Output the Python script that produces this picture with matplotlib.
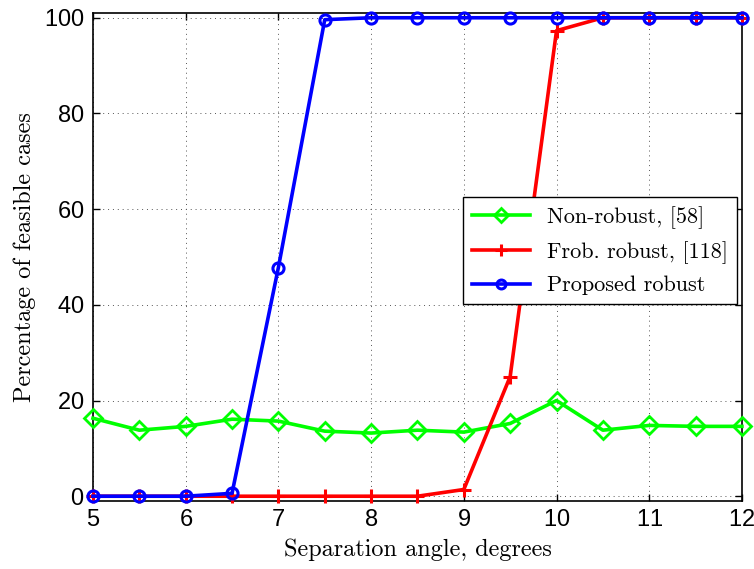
import matplotlib
matplotlib.use("Agg")
import matplotlib.pyplot as plt

angles = [5, 5.5, 6, 6.5, 7, 7.5, 8, 8.5, 9, 9.5, 10, 10.5, 11, 11.5, 12]
non_robust = [16.3, 13.8, 14.6, 16.1, 15.7, 13.6, 13.2, 13.8, 13.4, 15.2, 20.0, 13.8, 14.8, 14.6, 14.6]
frob_robust = [0, 0, 0, 0, 0, 0, 0, 0, 1.4, 25.0, 97.3, 100, 100, 100, 100]
proposed = [0, 0, 0, 0.6, 47.8, 99.6, 100, 100, 100, 100, 100, 100, 100, 100, 100]

labels = ["Non-robust, [58]", "Frob. robust, [118]", "Proposed robust"]
xticks = [5, 6, 7, 8, 9, 10, 11, 12]
yticks = [0, 20, 40, 60, 80, 100]

serif = ["cmr10", "DejaVu Serif"]
plt.rcParams["axes.formatter.use_mathtext"] = True

fig = plt.figure(figsize=(7.54, 5.69), dpi=100)
ax = fig.add_axes([0.1233, 0.1195, 0.8607, 0.8577])

ax.plot(angles, non_robust, color="#00ff00", lw=2.6, marker="D", ms=9,
        mfc="none", mew=2, label=labels[0], clip_on=False, zorder=3)
ax.plot(angles, frob_robust, color="#ff0000", lw=2.6, marker="+", ms=10,
        mew=2.2, label=labels[1], clip_on=False, zorder=4)
ax.plot(angles, proposed, color="#0000ff", lw=2.6, marker="o", ms=8,
        mfc="none", mew=2.2, label=labels[2], clip_on=False, zorder=5)

ax.set_xlim(5, 12)
ax.set_ylim(-1, 101)
ax.set_xticks(xticks)
ax.set_yticks(yticks)
ax.grid(True, linestyle=(0, (1, 4)), color="#555555", lw=0.7)
ax.tick_params(direction="in", top=True, right=True, length=5, width=1,
               labelsize=17, pad=6)
for lab in ax.get_xticklabels() + ax.get_yticklabels():
    lab.set_fontfamily("Liberation Sans")
for s in ax.spines.values():
    s.set_linewidth(1.2)

ax.set_xlabel("Separation angle, degrees", fontsize=17.5, family=serif, labelpad=5)
ax.set_ylabel("Percentage of feasible cases", fontsize=17.5, family=serif, labelpad=6)

leg = ax.legend(loc="upper left", bbox_to_anchor=(463 / 754, 1 - 197 / 569),
                bbox_transform=fig.transFigure, fancybox=False, framealpha=1,
                edgecolor="black", prop={"family": serif, "size": 16},
                handlelength=2.6, borderaxespad=0, labelspacing=0.55,
                markerscale=0.8)
leg.get_frame().set_linewidth(1.0)

fig.savefig("out.png", dpi=100)
